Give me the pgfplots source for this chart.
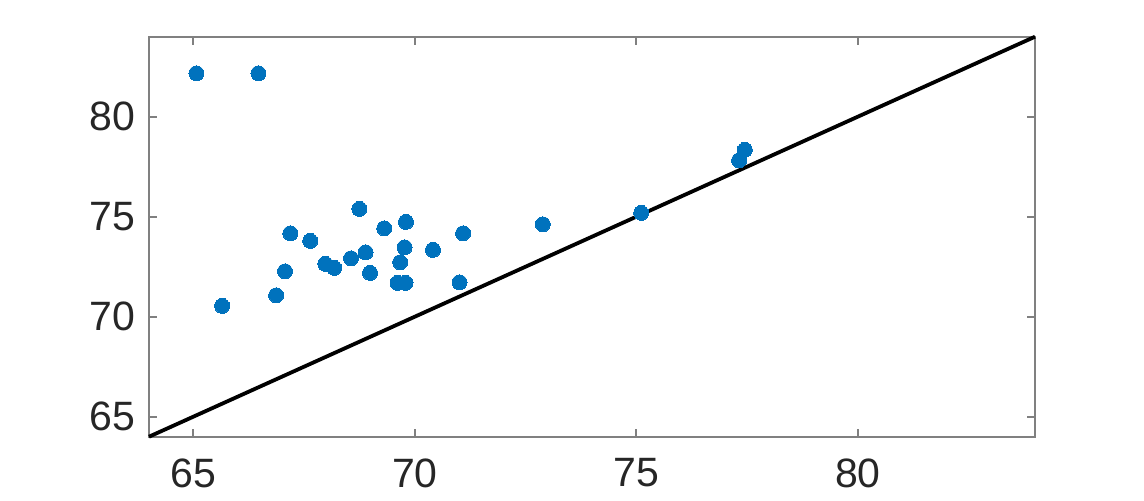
\documentclass[border=0pt]{standalone}
\usepackage{pgfplots}
\pgfplotsset{compat=1.18}
\usepackage{fontspec}
\setmainfont{Liberation Sans}
\definecolor{mblue}{HTML}{0072BD}
\definecolor{axgray}{HTML}{808080}
\definecolor{txt}{HTML}{262626}
\begin{document}
\fontsize{20}{24}\selectfont
\begin{tikzpicture}
\path[use as bounding box] (-74.5pt,-31.65pt) rectangle (497.5pt,218.35pt);
\begin{axis}[
  scale only axis,
  width=443pt, height=200pt,
  xmin=64, xmax=84, ymin=64, ymax=84,
  xtick={65,70,75,80}, ytick={65,70,75,80},
  tick align=inside,
  major tick length=4pt,
  axis line style={axgray, line width=0.9pt},
  every tick/.style={axgray, line width=0.9pt},
  tick label style={text=txt, font=\fontsize{20.5}{24}\selectfont},
  xticklabel style={yshift=-4pt},
  /pgf/number format/assume math mode=true,
  clip=false,
]
\addplot[only marks, color=mblue, mark=*, mark size=3.75pt, mark options={draw=mblue, fill=mblue, line width=0pt}] coordinates {
(65.07,82.17) (66.47,82.17) (65.65,70.54) (66.87,71.07) (67.07,72.27)
(67.19,74.17) (67.64,73.79) (67.98,72.64) (68.18,72.44) (68.56,72.92)
(68.75,75.39) (68.89,73.22) (68.99,72.19) (69.31,74.42) (69.61,71.69)
(69.79,71.69) (69.67,72.72) (69.77,73.47) (69.80,74.74) (70.41,73.34)
(71.01,71.72) (71.09,74.17) (72.89,74.62) (75.11,75.19) (77.32,77.82)
(77.45,78.34)
};
\addplot[black, line width=1.9pt] coordinates {(64,64) (84,84)};
\end{axis}
\end{tikzpicture}
\end{document}
